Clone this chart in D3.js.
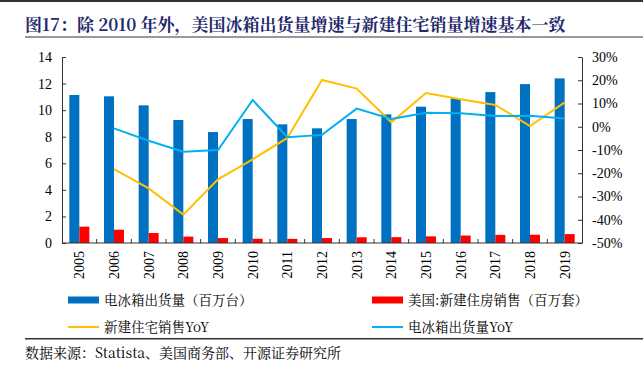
<!DOCTYPE html>
<html><head><meta charset="utf-8">
<script src="https://cdn.jsdelivr.net/npm/d3@7/dist/d3.min.js"></script>
<style>body{margin:0;background:#fff}svg{display:block}</style>
</head><body>
<svg id="c" width="643" height="369"></svg>
<script>
const years = ["2005","2006","2007","2008","2009","2010","2011","2012","2013","2014","2015","2016","2017","2018","2019"];
const fridgeShip = [11.14,11.04,10.36,9.26,8.35,9.33,8.93,8.63,9.33,9.68,10.26,10.89,11.36,11.96,12.39];
const homeSales = [1.23,1.0,0.75,0.48,0.37,0.32,0.31,0.37,0.43,0.44,0.50,0.56,0.61,0.62,0.67];
const homeYoY = [null,-18.2,-26.5,-37.8,-22.6,-14.0,-4.8,20.1,16.4,1.9,14.5,11.8,9.4,0.3,10.5];
const fridgeYoY = [null,-0.7,-6.0,-10.7,-10.0,11.5,-4.5,-3.5,7.8,3.3,6.0,5.8,4.6,4.7,3.6];
const leftTicks = [0,2,4,6,8,10,12,14];
const rightTicks = [-50,-40,-30,-20,-10,0,10,20,30];
const title = "图17：除 2010 年外，美国冰箱出货量增速与新建住宅销量增速基本一致";
const source = "数据来源：Statista、美国商务部、开源证券研究所";
const legendItems = [
  {label:"电冰箱出货量（百万台）", type:"rect", color:"#0070C0"},
  {label:"美国:新建住房销售（百万套）", type:"rect", color:"#FF0000"},
  {label:"新建住宅销售YoY", type:"line", color:"#FFC000"},
  {label:"电冰箱出货量YoY", type:"line", color:"#00B0F0"}
];

const svg = d3.select("#c");
const serif = "'Liberation Serif','DejaVu Serif',serif";
const cjkSerif = "'Noto Serif CJK SC','Liberation Serif','Noto Sans CJK SC',serif";
const L = 62, R = 582, T = 57, B = 243;

// top border
svg.append("rect").attr("x",0).attr("y",0).attr("width",643).attr("height",2).attr("fill","#333");
svg.append("text").attr("x",25).attr("y",31).attr("fill","#1F2A6B")
  .attr("font-family",cjkSerif).attr("font-weight","bold").attr("font-size",17).text(title);
svg.append("rect").attr("x",25).attr("y",36).attr("width",618).attr("height",2).attr("fill","#999");

const x = d3.scaleBand().domain(years).range([L,R]);
const yL = d3.scaleLinear().domain([0,14]).range([B,T]);
const yR = d3.scaleLinear().domain([-50,30]).range([B,T]);
const bw = 10;

// axes
const gL = svg.append("g").attr("transform",`translate(${L},0)`)
  .call(d3.axisLeft(yL).tickValues(leftTicks).tickSizeInner(-4).tickSizeOuter(0).tickPadding(10));
const gR = svg.append("g").attr("transform",`translate(${R},0)`)
  .call(d3.axisRight(yR).tickValues(rightTicks).tickFormat(d=>d+"%").tickSizeInner(-4).tickSizeOuter(0).tickPadding(10));
[gL,gR].forEach(g=>{
  g.selectAll("path,line").attr("stroke","#333");
  g.selectAll("text").attr("font-family",serif).attr("font-size",14).attr("fill","#000");
});

// bars
svg.append("g").selectAll("rect").data(years).join("rect")
  .attr("x",d=>x(d)+x.bandwidth()/2-bw).attr("width",bw)
  .attr("y",(d,i)=>yL(fridgeShip[i])).attr("height",(d,i)=>yL(0)-yL(fridgeShip[i]))
  .attr("fill","#0070C0");
svg.append("g").selectAll("rect").data(years).join("rect")
  .attr("x",d=>x(d)+x.bandwidth()/2).attr("width",bw)
  .attr("y",(d,i)=>yL(homeSales[i])).attr("height",(d,i)=>yL(0)-yL(homeSales[i]))
  .attr("fill","#FF0000");

// bottom axis
const gB = svg.append("g").attr("transform",`translate(0,${B})`);
gB.append("line").attr("x1",L).attr("x2",R).attr("stroke","#333");
gB.selectAll("line.t").data(years.slice(1)).join("line").attr("class","t")
  .attr("x1",d=>x(d)).attr("x2",d=>x(d)).attr("y1",0).attr("y2",-4).attr("stroke","#333");
gB.selectAll("text").data(years).join("text")
  .attr("transform",d=>`translate(${x(d)+x.bandwidth()/2+5},8) rotate(-90)`)
  .attr("text-anchor","end").attr("font-family",serif).attr("font-size",14).text(d=>d);

// lines
const line = d3.line().defined(d=>d[1]!==null).x(d=>x(d[0])+x.bandwidth()/2).y(d=>yR(d[1]));
svg.append("path").datum(years.map((d,i)=>[d,homeYoY[i]])).attr("d",line)
  .attr("fill","none").attr("stroke","#FFC000").attr("stroke-width",2);
svg.append("path").datum(years.map((d,i)=>[d,fridgeYoY[i]])).attr("d",line)
  .attr("fill","none").attr("stroke","#00B0F0").attr("stroke-width",2);

// legend
const pos = [[68,300],[372,300],[68,327],[372,327]];
legendItems.forEach((it,i)=>{
  const [lx,ly] = pos[i];
  const g = svg.append("g");
  if(it.type==="rect") g.append("rect").attr("x",lx).attr("y",ly-3.5).attr("width",31).attr("height",7).attr("fill",it.color);
  else g.append("line").attr("x1",lx).attr("x2",lx+31).attr("y1",ly).attr("y2",ly).attr("stroke",it.color).attr("stroke-width",2);
  g.append("text").attr("x",lx+36).attr("y",ly+5).attr("font-family",cjkSerif)
    .attr("font-size",13.5).attr("fill","#000").text(it.label);
});

svg.append("rect").attr("x",25).attr("y",338).attr("width",618).attr("height",1.5).attr("fill","#333");
svg.append("text").attr("x",25).attr("y",358).attr("font-family",cjkSerif)
  .attr("font-size",14).attr("fill","#000").text(source);
</script>
</body></html>
